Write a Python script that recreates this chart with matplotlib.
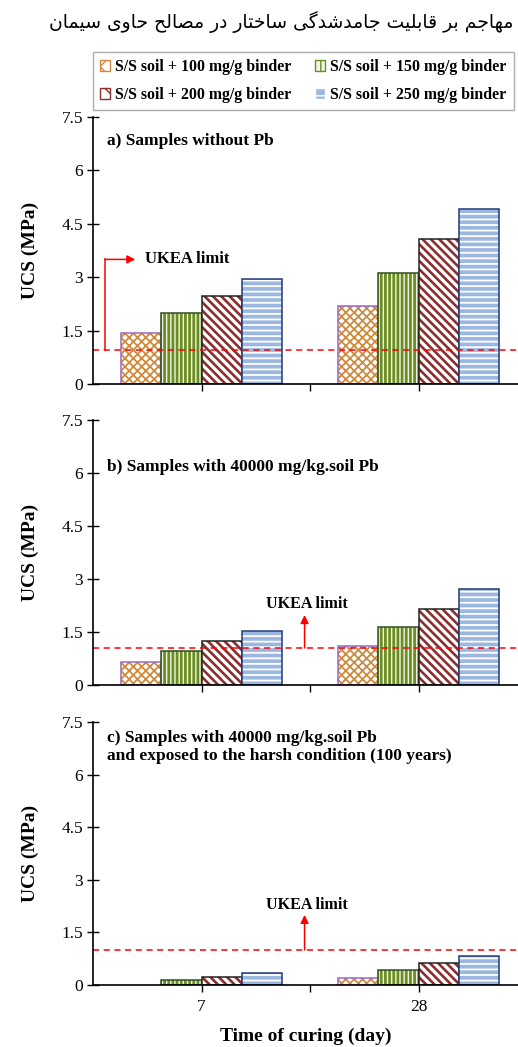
import numpy as np
import matplotlib
matplotlib.use('Agg')
import matplotlib.pyplot as plt
from matplotlib.patches import Patch

plt.rcParams['font.family'] = 'Liberation Serif'

# data
days = ['7', '28']
binders = ['S/S soil + 100 mg/g binder', 'S/S soil + 150 mg/g binder',
           'S/S soil + 200 mg/g binder', 'S/S soil + 250 mg/g binder']
ucs_no_pb = [[1.43, 2.19], [2.00, 3.12], [2.47, 4.07], [2.95, 4.92]]
ucs_pb = [[0.65, 1.10], [0.96, 1.64], [1.25, 2.15], [1.53, 2.72]]
ucs_harsh = [[0.0, 0.19], [0.14, 0.44], [0.23, 0.64], [0.33, 0.82]]
ukea_limit = [0.95, 1.05, 1.0]
panel_titles = ['a) Samples without Pb',
                'b) Samples with 40000 mg/kg.soil Pb',
                'c) Samples with 40000 mg/kg.soil Pb\nand exposed to the harsh condition (100 years)']
title_fa = 'مهاجم بر قابلیت جامدشدگی ساختار در مصالح حاوی سیمان'

# bar styles: face, hatch colour, hatch, edge, hatch width
styles = [('white', '#D08A3C', 'xxxx', '#9966CC', 1.3),
          ('#F2F5E6', '#6B8E23', '||||', '#2F4F1F', 2.0),
          ('white', '#8B2E2E', '\\\\\\\\', '#222222', 1.9),
          ('#9DB8E0', 'white', '---', '#1F3A7A', 1.3)]

# simple arabic shaping (matplotlib has no complex text layout)
FORMS = {
    'ا': ('\uFE8D', '\uFE8E', None, None),
    'ب': ('\uFE8F', '\uFE90', '\uFE91', '\uFE92'),
    'ت': ('\uFE95', '\uFE96', '\uFE97', '\uFE98'),
    'ج': ('\uFE9D', '\uFE9E', '\uFE9F', '\uFEA0'),
    'ح': ('\uFEA1', '\uFEA2', '\uFEA3', '\uFEA4'),
    'خ': ('\uFEA5', '\uFEA6', '\uFEA7', '\uFEA8'),
    'د': ('\uFEA9', '\uFEAA', None, None),
    'ر': ('\uFEAD', '\uFEAE', None, None),
    'س': ('\uFEB1', '\uFEB2', '\uFEB3', '\uFEB4'),
    'ش': ('\uFEB5', '\uFEB6', '\uFEB7', '\uFEB8'),
    'ص': ('\uFEB9', '\uFEBA', '\uFEBB', '\uFEBC'),
    'ق': ('\uFED5', '\uFED6', '\uFED7', '\uFED8'),
    'ل': ('\uFEDD', '\uFEDE', '\uFEDF', '\uFEE0'),
    'م': ('\uFEE1', '\uFEE2', '\uFEE3', '\uFEE4'),
    'ن': ('\uFEE5', '\uFEE6', '\uFEE7', '\uFEE8'),
    'ه': ('\uFEE9', '\uFEEA', '\uFEEB', '\uFEEC'),
    'و': ('\uFEED', '\uFEEE', None, None),
    'ی': ('\uFBFC', '\uFBFD', '\uFBFE', '\uFBFF'),
    'گ': ('\uFB92', '\uFB93', '\uFB94', '\uFB95'),
}


def shape(text):
    out = []
    for i, ch in enumerate(text):
        if ch not in FORMS:
            out.append(ch)
            continue
        prev = text[i - 1] if i > 0 else ''
        nxt = text[i + 1] if i + 1 < len(text) else ''
        jp = prev in FORMS and FORMS[prev][2] is not None
        jn = nxt in FORMS and FORMS[ch][2] is not None
        iso, fin, ini, med = FORMS[ch]
        out.append(med if (jp and jn) else fin if jp else ini if jn else iso)
    return ''.join(reversed(out))


fig = plt.figure(figsize=(5.18, 10.47), dpi=100)
W, H = 518, 1047
panels = [(117, 384), (420, 685), (722, 985)]
x_left = 93
unit = 108.5
xmax = (W - x_left) / unit
centers = np.array([1.0, 3.0])
bw = 0.37

# arrow / text positions (data coords)
arrows = [None, (1.95, 1.98, 2.3), (1.95, 2.0, 2.28)]
title_pos = [0.91, 0.823, 0.905]

datasets = [ucs_no_pb, ucs_pb, ucs_harsh]
for k, (top, bot) in enumerate(panels):
    ax = fig.add_axes([x_left / W, 1 - bot / H, (W - x_left) / W, (bot - top) / H])
    vals = datasets[k]
    for j in range(4):
        face, hc, hatch, edge, hlw = styles[j]
        x = centers + (j - 1.5) * bw
        v = np.array(vals[j])
        m = v > 0
        with plt.rc_context({'hatch.linewidth': hlw}):
            ax.bar(x[m], v[m], bw, color=face, edgecolor=hc, hatch=hatch, linewidth=0)
        ax.bar(x[m], v[m], bw, facecolor='none', edgecolor=edge, linewidth=1.1)
    ax.axhline(ukea_limit[k], color='#FF0000', ls=(0, (4, 3)), lw=1.1)

    ax.set_xlim(0, xmax)
    ax.set_ylim(0, 7.5)
    ax.set_yticks(np.arange(0, 7.6, 1.5))
    ax.set_yticklabels(['0', '1.5', '3', '4.5', '6', '7.5'])
    ax.set_xticks([1, 2, 3])
    ax.tick_params(axis='y', direction='inout', length=8, width=1, labelsize=12.5, pad=3)
    ax.tick_params(axis='x', direction='out', length=5, width=1, labelsize=12.5, pad=5)
    if k == 2:
        ax.set_xticklabels(['7', '', '28'])
        ax.set_xlabel('Time of curing (day)', fontsize=14, fontweight='bold', labelpad=9)
    else:
        ax.set_xticklabels(['', '', ''])
    ax.spines['top'].set_visible(False)
    ax.spines['right'].set_visible(False)
    ax.spines['left'].set_linewidth(1.2)
    ax.spines['bottom'].set_linewidth(1.2)
    ax.set_ylabel('UCS (MPa)', fontsize=14, fontweight='bold')
    ax.yaxis.set_label_coords(-0.128, 0.5)

    ax.text(0.033, title_pos[k], panel_titles[k], transform=ax.transAxes,
            fontsize=12.5, fontweight='bold', va='center', ha='left', linespacing=1.15)

    if k == 0:
        ax.plot([0.11, 0.11], [ukea_limit[k], 3.5], color='#FF0000', lw=1.1)
        ax.annotate('', xy=(0.39, 3.5), xytext=(0.11, 3.5),
                    arrowprops=dict(arrowstyle='-|>', color='#FF0000', lw=1.1,
                                    mutation_scale=12, shrinkA=0, shrinkB=0))
        ax.text(0.48, 3.5, 'UKEA limit', fontsize=12, fontweight='bold', va='center')
    else:
        xa, ya, yt = arrows[k]
        ax.annotate('', xy=(xa, ya), xytext=(xa, ukea_limit[k]),
                    arrowprops=dict(arrowstyle='-|>', color='#FF0000', lw=1.1,
                                    mutation_scale=12, shrinkA=0, shrinkB=0))
        ax.text(xa + 0.02, yt, 'UKEA limit', fontsize=11.5, fontweight='bold',
                va='center', ha='center')

# legend filled row by row like the original
order = [0, 2, 1, 3]
handles = []
for s in styles:
    with plt.rc_context({'hatch.linewidth': min(s[4], 1.0)}):
        handles.append(Patch(facecolor=s[0], edgecolor=s[1], hatch=s[2][:2]))
fig.legend([handles[i] for i in order], [binders[i] for i in order], ncol=2,
           loc='upper left', bbox_to_anchor=(x_left / W, 1 - 52 / H),
           frameon=True, fancybox=False, edgecolor='#999999',
           prop={'weight': 'bold', 'size': 11.4},
           handlelength=0.65, handleheight=0.65, handletextpad=0.3,
           columnspacing=1.5, borderpad=0.45, labelspacing=0.75,
           borderaxespad=0)

fig.text(513 / W, 1 - 22 / H, shape(title_fa), family='DejaVu Sans',
         fontsize=13.5, ha='right', va='center')

fig.savefig('out.png', dpi=100)
